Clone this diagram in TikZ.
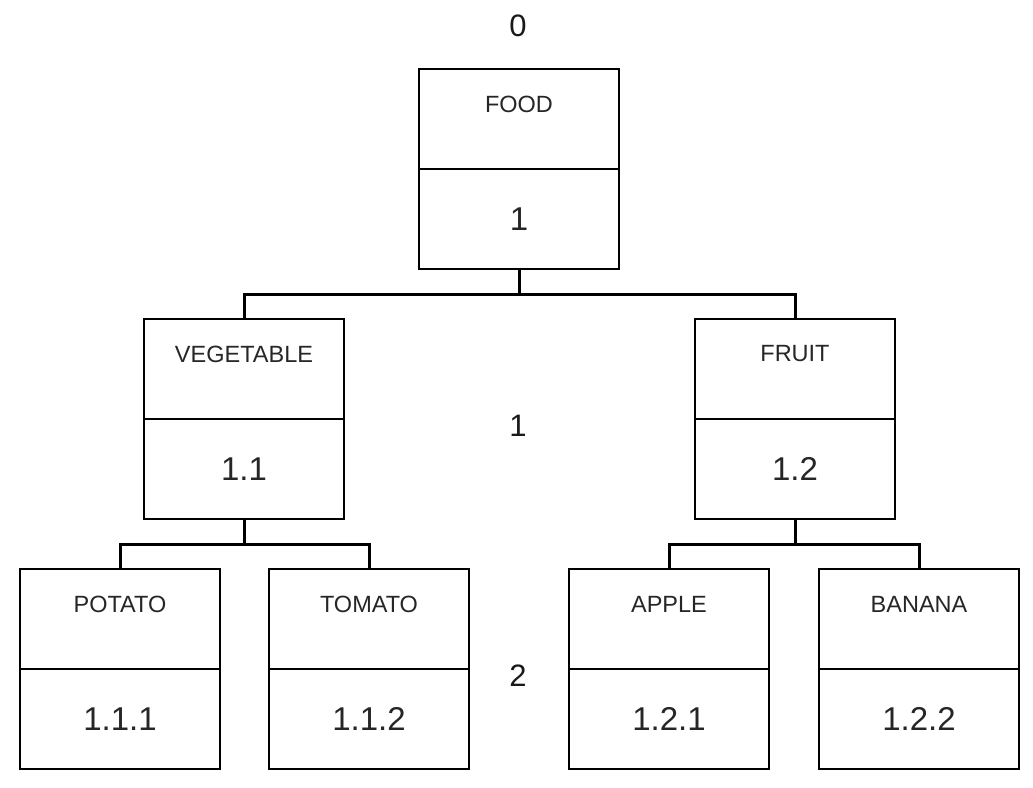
\documentclass[tikz,border=0pt]{standalone}
\usepackage{fontspec}
\setmainfont{Liberation Sans}
\begin{document}
\begin{tikzpicture}[x=1pt,y=-1pt,
  box/.style={draw=black, line width=2pt, minimum width=200pt, minimum height=200pt, inner sep=0pt, outer sep=0pt},
  divider/.style={draw=black, line width=2pt},
  lbl/.style={inner sep=0pt, text=black!85, font=\fontsize{23.5}{26}\selectfont},
  num/.style={inner sep=0pt, text=black!85, font=\fontsize{33}{36}\selectfont},
  lvl/.style={inner sep=0pt, text=black!90, font=\fontsize{31}{34}\selectfont},
  conn/.style={draw=black, line width=3pt}]
\useasboundingbox (0,0) rectangle (1033,787);
% boxes
\node[box] (food)   at (519,169) {};
\node[box] (veg)    at (244,419) {};
\node[box] (fruit)  at (795,419) {};
\node[box] (potato) at (120,669) {};
\node[box] (tomato) at (369,669) {};
\node[box] (apple)  at (669,669) {};
\node[box] (banana) at (919,669) {};
% dividers, labels, numbers
\foreach \n/\t/\m in {food/FOOD/1, veg/VEGETABLE/1.1, fruit/FRUIT/1.2, potato/POTATO/1.1.1, tomato/TOMATO/1.1.2, apple/APPLE/1.2.1, banana/BANANA/1.2.2}{
  \draw[divider] (\n.west) -- (\n.east);
  \node[lbl] (\n-t) at ([yshift=-35pt]\n.north) {\t};
  \node[num] (\n-n) at ([yshift=-50pt]\n.center) {\m};
}
% level labels
\node[lvl] (l0) at (518,26) {0};
\node[lvl] (l1) at (518,426) {1};
\node[lvl] (l2) at (518,676) {2};
% connectors
\draw[conn] (food.south) -- ++(0,25) coordinate (j0);
\draw[conn] (veg.north) |- (j0) -| (fruit.north);
\draw[conn] (veg.south) -- ++(0,25) coordinate (j1);
\draw[conn] (potato.north) |- (j1) -| (tomato.north);
\draw[conn] (fruit.south) -- ++(0,25) coordinate (j2);
\draw[conn] (apple.north) |- (j2) -| (banana.north);
\end{tikzpicture}
\end{document}
